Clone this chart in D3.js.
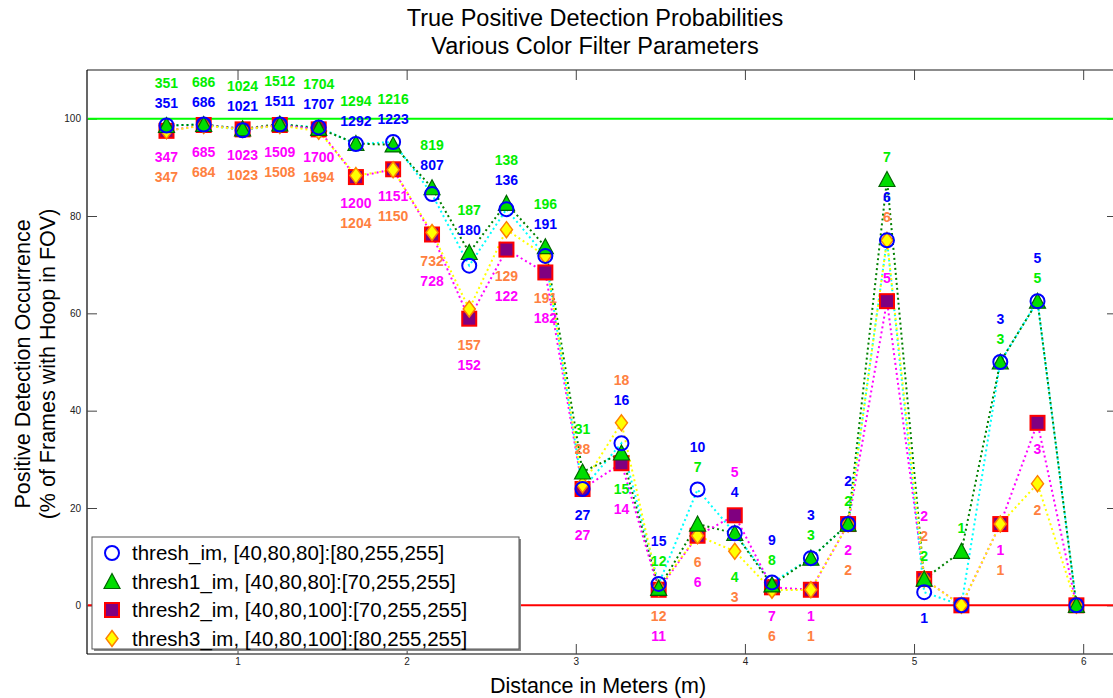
<!DOCTYPE html>
<html>
<head>
<meta charset="utf-8">
<script src="https://cdn.jsdelivr.net/npm/d3@7/dist/d3.min.js"></script>
<style>
  body { margin: 0; background: #fff; }
  text { font-family: "Liberation Sans", Arial, Helvetica, sans-serif; }
</style>
</head>
<body>
<svg id="chart" width="1113" height="698"></svg>
<script>
// distances (m) of each test position
const distances = [0.58, 0.80, 1.03, 1.25, 1.48, 1.70, 1.92, 2.15, 2.37, 2.59, 2.82, 3.04, 3.27,
  3.49, 3.72, 3.94, 4.16, 4.39, 4.61, 4.84, 5.06, 5.28, 5.51, 5.73, 5.96];

// detection rate in % for each filter
const threshIm = [98.6, 98.8, 97.6, 98.8, 98.2, 94.8, 95.2, 84.5, 69.8, 81.4, 71.8, 23.9, 33.3,
  4.4, 23.8, 14.8, 4.7, 9.7, 16.7, 75.0, 2.7, 0, 50.0, 62.5, 0];
const thresh1Im = [98.6, 98.8, 97.9, 98.9, 98.0, 94.9, 94.6, 85.8, 72.5, 82.6, 73.7, 27.4, 31.3,
  3.5, 16.7, 14.8, 4.2, 9.7, 16.7, 87.5, 5.4, 11.1, 50.0, 62.5, 0];
const thresh2Im = [97.5, 98.7, 97.8, 98.7, 97.8, 88.0, 89.6, 76.2, 58.9, 73.1, 68.4, 23.9, 29.2,
  3.2, 14.3, 18.5, 3.7, 3.2, 16.7, 62.5, 5.4, 0, 16.7, 37.5, 0];
const thresh3Im = [97.5, 98.6, 97.8, 98.6, 97.4, 88.3, 89.5, 76.6, 60.9, 77.2, 71.8, 24.8, 37.5,
  3.5, 14.3, 11.1, 3.1, 3.2, 16.7, 75.0, 5.4, 0, 16.7, 25.0, 0];

// number of frames with a detection
const threshCount = [351, 686, 1021, 1511, 1707, 1292, 1223, 807, 180, 136, 191, 27, 16,
  15, 10, 4, 9, 3, 2, 6, 1, 0, 3, 5, 0];
const thresh1Count = [351, 686, 1024, 1512, 1704, 1294, 1216, 819, 187, 138, 196, 31, 15,
  12, 7, 4, 8, 3, 2, 7, 2, 1, 3, 5, 0];
const thresh2Count = [347, 685, 1023, 1509, 1700, 1200, 1151, 728, 152, 122, 182, 27, 14,
  11, 6, 5, 7, 1, 2, 5, 2, 0, 1, 3, 0];
const thresh3Count = [347, 684, 1023, 1508, 1694, 1204, 1150, 732, 157, 129, 191, 28, 18,
  12, 6, 3, 6, 1, 2, 6, 2, 0, 1, 2, 0];

const legendNames = [
  'thresh_im, [40,80,80]:[80,255,255]',
  'thresh1_im, [40,80,80]:[70,255,255]',
  'thresh2_im, [40,80,100]:[70,255,255]',
  'thresh3_im, [40,80,100]:[80,255,255]',
];

// how the count labels are stacked at each position:
// "+" group goes above its highest marker, "-" below its lowest, first letter nearest
// b = thresh_im, g = thresh1_im, m = thresh2_im, o = thresh3_im
const labelLayout = ['+bg -mo', '+bg -mo', '+bg -mo', '+bg -mo', '+bg -mo', '+bg -mo', '+bg -mo',
  '+bg -om', '+bg -om', '+bg -om', '+bg -om', '+og -bm', '+bo -gm', '+gb -om', '+gb -om',
  '+bm -go', '+gb -mo', '+gb -mo', '+gb -mo', '+g +ob +m', '+gom -b', '+g', '+gb -mo',
  '+gb -m -o', ''];

const xTicks = [1, 2, 3, 4, 5, 6];
const yTicks = [0, 20, 40, 60, 80, 100];

const width = 1113;
const height = 698;
const plot = { left: 87, top: 70, right: 1117, bottom: 654 };

const svg = d3.select('#chart');

const x = d3.scaleLinear().domain([0.11, 6.2]).range([plot.left, plot.right]);
const y = d3.scaleLinear().domain([-10, 110]).range([plot.bottom, plot.top]);

// marker shapes
const trianglePath = 'M0,-8L8,7L-8,7Z';
const diamondPath = 'M0,-8L6,0L0,8L-6,0Z';

const series = [
  { key: 'b', values: threshIm, counts: threshCount, line: '#00ffff', text: '#0000ff' },
  { key: 'g', values: thresh1Im, counts: thresh1Count, line: '#008000', text: '#00ee00' },
  { key: 'm', values: thresh2Im, counts: thresh2Count, line: '#ff00ff', text: '#ff00ff' },
  { key: 'o', values: thresh3Im, counts: thresh3Count, line: '#ffff00', text: '#ff8040' },
];
const byKey = {};
series.forEach((s) => (byKey[s.key] = s));

function drawMarker(g, key, cx, cy) {
  if (key === 'b') {
    g.append('circle').attr('cx', cx).attr('cy', cy).attr('r', 7)
      .attr('fill', 'none').attr('stroke', '#0000ff').attr('stroke-width', 2);
  } else if (key === 'g') {
    g.append('path').attr('d', trianglePath).attr('transform', `translate(${cx},${cy})`)
      .attr('fill', '#00dd00').attr('stroke', '#006400').attr('stroke-width', 1.2);
  } else if (key === 'm') {
    g.append('rect').attr('x', cx - 7).attr('y', cy - 7).attr('width', 14).attr('height', 14)
      .attr('fill', '#800080').attr('stroke', '#ff0000').attr('stroke-width', 2);
  } else {
    g.append('path').attr('d', diamondPath).attr('transform', `translate(${cx},${cy})`)
      .attr('fill', '#ffff00').attr('stroke', '#ff8000').attr('stroke-width', 1.5);
  }
}

// titles
svg.append('text').attr('x', 595).attr('y', 26).attr('text-anchor', 'middle')
  .attr('font-size', 23.5).text('True Positive Detection Probabilities');
svg.append('text').attr('x', 595).attr('y', 54).attr('text-anchor', 'middle')
  .attr('font-size', 23.5).text('Various Color Filter Parameters');

svg.append('text').attr('x', 598).attr('y', 693).attr('text-anchor', 'middle')
  .attr('font-size', 21.5).text('Distance in Meters (m)');

const yLabel = svg.append('text').attr('transform', 'translate(0,364) rotate(-90)')
  .attr('text-anchor', 'middle').attr('font-size', 21.5);
yLabel.append('tspan').attr('x', 0).attr('y', 30).text('Positive Detection Occurrence');
yLabel.append('tspan').attr('x', 0).attr('y', 55).text('(% of Frames with Hoop in FOV)');

// axes box with inward ticks
const box = svg.append('g');
box.append('line').attr('x1', plot.left).attr('x2', width).attr('y1', plot.top).attr('y2', plot.top)
  .attr('stroke', '#666').attr('stroke-width', 1.5);
box.append('line').attr('x1', plot.left).attr('x2', width).attr('y1', plot.bottom).attr('y2', plot.bottom)
  .attr('stroke', '#555').attr('stroke-width', 1.5);
box.append('line').attr('x1', plot.left).attr('x2', plot.left).attr('y1', plot.top).attr('y2', plot.bottom)
  .attr('stroke', '#000').attr('stroke-width', 1.2);

const xAxis = svg.append('g').attr('transform', `translate(0,${plot.bottom})`)
  .call(d3.axisBottom(x).tickValues(xTicks).tickSize(-10).tickPadding(4).tickFormat(d3.format('d')));
xAxis.select('.domain').remove();
xAxis.selectAll('line').attr('stroke', '#444');
xAxis.selectAll('text').attr('font-size', 10).attr('fill', '#222');

const xTop = svg.append('g').attr('transform', `translate(0,${plot.top})`)
  .call(d3.axisTop(x).tickValues(xTicks).tickSize(-10).tickFormat(''));
xTop.select('.domain').remove();
xTop.selectAll('line').attr('stroke', '#444');

const yAxis = svg.append('g').attr('transform', `translate(${plot.left},0)`)
  .call(d3.axisLeft(y).tickValues(yTicks).tickSize(-10).tickPadding(6));
yAxis.select('.domain').remove();
yAxis.selectAll('line').attr('stroke', '#444');
yAxis.selectAll('text').attr('font-size', 10).attr('fill', '#222');

const yRight = svg.append('g').attr('transform', `translate(${plot.right},0)`)
  .call(d3.axisRight(y).tickValues(yTicks).tickSize(-10).tickFormat(''));
yRight.select('.domain').remove();
yRight.selectAll('line').attr('stroke', '#444');

// reference lines at 100% and 0%
svg.append('line').attr('x1', plot.left + 1).attr('x2', width).attr('y1', y(100)).attr('y2', y(100))
  .attr('stroke', '#00ff00').attr('stroke-width', 2);
svg.append('line').attr('x1', plot.left + 1).attr('x2', width).attr('y1', y(0)).attr('y2', y(0))
  .attr('stroke', '#ff0000').attr('stroke-width', 2);

// dotted series lines
const line = d3.line().x((d, i) => x(distances[i])).y((d) => y(d));
series.forEach((s) => {
  svg.append('path').datum(s.values).attr('d', line)
    .attr('fill', 'none').attr('stroke', s.line).attr('stroke-width', 2)
    .attr('stroke-dasharray', '2,3');
});

// markers, drawn so the circle ends up on top
const markers = svg.append('g');
['m', 'o', 'g', 'b'].forEach((key) => {
  const s = byKey[key];
  s.values.forEach((v, i) => drawMarker(markers, key, x(distances[i]), y(v)));
});

// count labels
const labels = svg.append('g').attr('font-size', 14).attr('font-weight', 'bold')
  .attr('text-anchor', 'middle');
labelLayout.forEach((spec, i) => {
  spec.split(' ').filter((t) => t).forEach((group) => {
    const above = group[0] === '+';
    const members = group.slice(1).split('').map((c) => byKey[c]);
    const vals = members.map((s) => s.values[i]);
    const anchor = y(above ? d3.max(vals) : d3.min(vals));
    members.forEach((s, k) => {
      const cy = above ? anchor - 23 - 20 * k : anchor + 26 + 20 * k;
      labels.append('text').attr('x', x(distances[i])).attr('y', cy).attr('dy', '0.36em')
        .attr('fill', s.text).text(s.counts[i]);
    });
  });
});

// legend
const legend = svg.append('g').attr('transform', 'translate(92,537)');
legend.append('rect').attr('x', 2).attr('y', 2).attr('width', 427).attr('height', 112).attr('fill', '#888');
legend.append('rect').attr('width', 427).attr('height', 112)
  .attr('fill', '#fff').attr('stroke', '#555').attr('stroke-width', 1);
legendNames.forEach((name, i) => {
  const ly = 16 + i * 28.5;
  drawMarker(legend, series[i].key, 20, ly);
  legend.append('text').attr('x', 40).attr('y', ly).attr('dy', '0.35em')
    .attr('font-size', 20.5).text(name);
});
</script>
</body>
</html>
